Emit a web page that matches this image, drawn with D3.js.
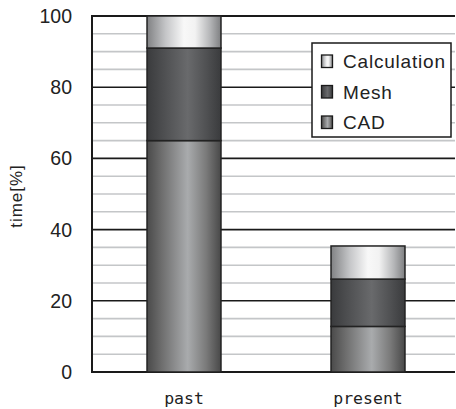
<!DOCTYPE html>
<html><head><meta charset="utf-8">
<script src="https://cdn.jsdelivr.net/npm/d3@7"></script>
<style>body{margin:0;background:#fff}svg{display:block}</style>
</head><body><svg id="c" width="456" height="409"></svg>
<script>
const categories = ["past", "present"];
const seriesNames = ["CAD", "Mesh", "Calculation"];
const cadValues = [65, 12.8];
const meshValues = [26, 13.3];
const calcValues = [9, 9.3];
const yTicks = [0, 20, 40, 60, 80, 100];
const yMinorTicks = [5,10,15,25,30,35,45,50,55,65,70,75,85,90,95];
const legendOrder = ["Calculation", "Mesh", "CAD"];

const svg = d3.select("#c");
const mLeft = 92, mTop = 16, mBottom = 372, frameRight = 455;
const x = d3.scaleBand().domain(categories).range([mLeft, 460]).paddingInner(0.598).paddingOuter(0.299);
const y = d3.scaleLinear().domain([0, 100]).range([mBottom, mTop]);

const defs = svg.append("defs");
function grad(id, stops){
  const g = defs.append("linearGradient").attr("id", id).attr("x1","0%").attr("x2","100%").attr("y1","0%").attr("y2","0%");
  stops.forEach(s => g.append("stop").attr("offset", s[0]).attr("stop-color", s[1]));
}
grad("gCAD", [["0%","#4a4a4a"],["20%","#6e6e6e"],["55%","#a9abad"],["80%","#7a7a7a"],["100%","#484848"]]);
grad("gMesh", [["0%","#3a3b3d"],["25%","#505153"],["55%","#696a6c"],["80%","#505153"],["100%","#3a3b3d"]]);
grad("gCalc", [["0%","#808183"],["25%","#c4c5c7"],["50%","#f8f8f8"],["65%","#f2f2f2"],["85%","#b5b6b8"],["100%","#7e7f81"]]);
const fills = {CAD:"url(#gCAD)", Mesh:"url(#gMesh)", Calculation:"url(#gCalc)"};

// minor gridlines
svg.append("g").selectAll("line").data(yMinorTicks).join("line")
  .attr("x1", mLeft).attr("x2", frameRight).attr("y1", d=>y(d)).attr("y2", d=>y(d))
  .attr("stroke", "#c4c6c8").attr("stroke-width", 1.6);
// major gridlines
svg.append("g").selectAll("line").data(yTicks).join("line")
  .attr("x1", mLeft).attr("x2", frameRight).attr("y1", d=>y(d)).attr("y2", d=>y(d))
  .attr("stroke", "#1a1a1a").attr("stroke-width", d => (d===0||d===100)?2:1.6);

// stacked bars
const table = categories.map((c,i)=>({cat:c, CAD:cadValues[i], Mesh:meshValues[i], Calculation:calcValues[i]}));
const stacked = d3.stack().keys(seriesNames)(table);
const gb = svg.append("g");
stacked.forEach(layer => {
  gb.append("g").selectAll("rect").data(layer).join("rect")
    .attr("x", d => x(d.data.cat))
    .attr("width", x.bandwidth())
    .attr("y", d => y(d[1]))
    .attr("height", d => y(d[0]) - y(d[1]))
    .attr("fill", fills[layer.key])
    .attr("stroke", "#222").attr("stroke-width", 1.5);
});

// left axis line
svg.append("line").attr("x1", mLeft).attr("x2", mLeft).attr("y1", mTop-1).attr("y2", mBottom+1)
  .attr("stroke", "#1a1a1a").attr("stroke-width", 2);

// y tick labels
svg.append("g").selectAll("text").data(yTicks).join("text")
  .attr("x", 72).attr("y", d => y(d) + 7)
  .attr("text-anchor", "end")
  .attr("font-family", "'Liberation Sans', Arial, sans-serif").attr("font-size", 19.5)
  .attr("fill", "#222").text(d => d);

// category labels
svg.append("g").selectAll("text").data(categories).join("text")
  .attr("x", d => x(d) + x.bandwidth()/2).attr("y", 404)
  .attr("text-anchor", "middle")
  .attr("font-family", "'DejaVu Sans Mono', monospace").attr("font-size", 16.5)
  .attr("fill", "#222").text(d => d);

// axis title
svg.append("text").attr("transform", "translate(22,196) rotate(-90)")
  .attr("text-anchor", "middle")
  .attr("font-family", "'Liberation Sans', Arial, sans-serif").attr("font-size", 17)
  .attr("letter-spacing", 1)
  .attr("fill", "#222").text("time[%]");

// legend
const lg = svg.append("g");
lg.append("rect").attr("x", 312).attr("y", 43).attr("width", 139).attr("height", 94)
  .attr("fill", "#fff").attr("stroke", "#1a1a1a").attr("stroke-width", 1.5);
const li = lg.selectAll("g.item").data(legendOrder).join("g").attr("class","item")
  .attr("transform", (d,i) => `translate(0, ${68 + i*30.5})`);
li.append("rect").attr("x", 321.5).attr("y", -13).attr("width", 11).attr("height", 12.5)
  .attr("fill", d => fills[d]).attr("stroke", "#1a1a1a").attr("stroke-width", 1.3);
li.append("text").attr("x", 343).attr("y", 0)
  .attr("font-family", "'Liberation Sans', Arial, sans-serif").attr("font-size", 19)
  .attr("letter-spacing", 0.8).attr("fill", "#222").text(d => d);
</script></body></html>
